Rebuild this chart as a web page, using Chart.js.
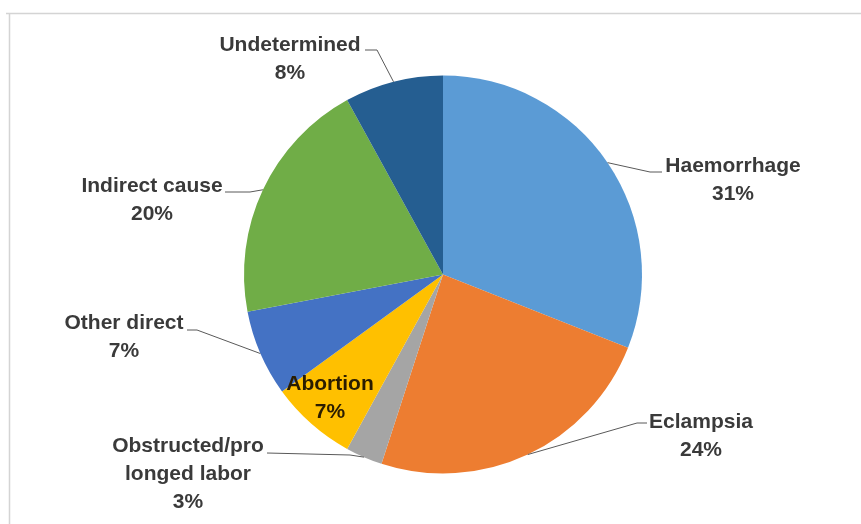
<!DOCTYPE html>
<html>
<head>
<meta charset="utf-8">
<script src="https://cdn.jsdelivr.net/npm/chart.js@4/dist/chart.umd.min.js"></script>
<style>
  html, body { margin: 0; padding: 0; background: #fff; }
  #wrap { width: 861px; height: 524px; position: relative; }
</style>
</head>
<body>
<div id="wrap"><canvas id="pie-chart" width="861" height="524"></canvas></div>
<script>
// data
const causes = ['Haemorrhage', 'Eclampsia', 'Obstructed/pro longed labor', 'Abortion', 'Other direct', 'Indirect cause', 'Undetermined'];
const shares = [31, 24, 3, 7, 7, 20, 8];
const sliceColors = ['#5B9BD5', '#ED7D31', '#A5A5A5', '#FFC000', '#4472C4', '#70AD47', '#255E91'];

// label text lines, positions and leader elbows (layout only)
const labelLines = [
  ['Haemorrhage'], ['Eclampsia'], ['Obstructed/pro', 'longed labor'], ['Abortion'],
  ['Other direct'], ['Indirect cause'], ['Undetermined']
];
const labelAt = [[733, 172], [701, 428], [188, 452], [330, 390], [124, 329], [152, 192], [290, 51]];
const leaderPts = [
  [[662, 172], [650, 172]],
  [[647, 423], [637, 423]],
  [[267, 453], [350, 455]],
  null,
  [[187, 330], [197, 330]],
  [[225, 192], [250, 192]],
  [[365, 50], [377, 50]]
];

const labelPlugin = {
  id: 'pieLabels',
  beforeDraw(chart) {
    const ctx = chart.ctx;
    ctx.save();
    ctx.strokeStyle = '#d4d4d4';
    ctx.lineWidth = 1.5;
    ctx.beginPath();
    ctx.moveTo(6, 13.5);
    ctx.lineTo(861, 13.5);
    ctx.moveTo(9.5, 13);
    ctx.lineTo(9.5, 524);
    ctx.stroke();
    ctx.restore();
  },
  afterDraw(chart) {
    const ctx = chart.ctx;
    const arcs = chart.getDatasetMeta(0).data;
    ctx.save();
    ctx.font = 'bold 21px "Liberation Sans", Arial, sans-serif';
    ctx.textAlign = 'center';
    ctx.textBaseline = 'alphabetic';
    arcs.forEach((arc, i) => {
      const p = arc.getProps(['x', 'y', 'startAngle', 'endAngle', 'outerRadius'], true);
      const mid = (p.startAngle + p.endAngle) / 2;
      const ex = p.x + Math.cos(mid) * p.outerRadius;
      const ey = p.y + Math.sin(mid) * p.outerRadius;
      const pts = leaderPts[i];
      if (pts) {
        ctx.strokeStyle = '#595959';
        ctx.lineWidth = 1;
        ctx.beginPath();
        ctx.moveTo(pts[0][0], pts[0][1]);
        for (let k = 1; k < pts.length; k++) ctx.lineTo(pts[k][0], pts[k][1]);
        ctx.lineTo(ex, ey);
        ctx.stroke();
      }
      const lines = labelLines[i].concat([shares[i] + '%']);
      ctx.fillStyle = i === 3 ? '#2b1d00' : '#3a3a3a';
      lines.forEach((t, k) => {
        ctx.fillText(t, labelAt[i][0], labelAt[i][1] + k * 28);
      });
    });
    ctx.restore();
  }
};

new Chart(document.getElementById('pie-chart').getContext('2d'), {
  type: 'pie',
  data: {
    labels: causes,
    datasets: [{
      data: shares,
      backgroundColor: sliceColors,
      borderWidth: 0
    }]
  },
  options: {
    responsive: false,
    animation: false,
    layout: { padding: { top: 75, bottom: 50, left: 244, right: 219 } },
    plugins: {
      legend: { display: false },
      tooltip: { enabled: false }
    }
  },
  plugins: [labelPlugin]
});
</script>
</body>
</html>
